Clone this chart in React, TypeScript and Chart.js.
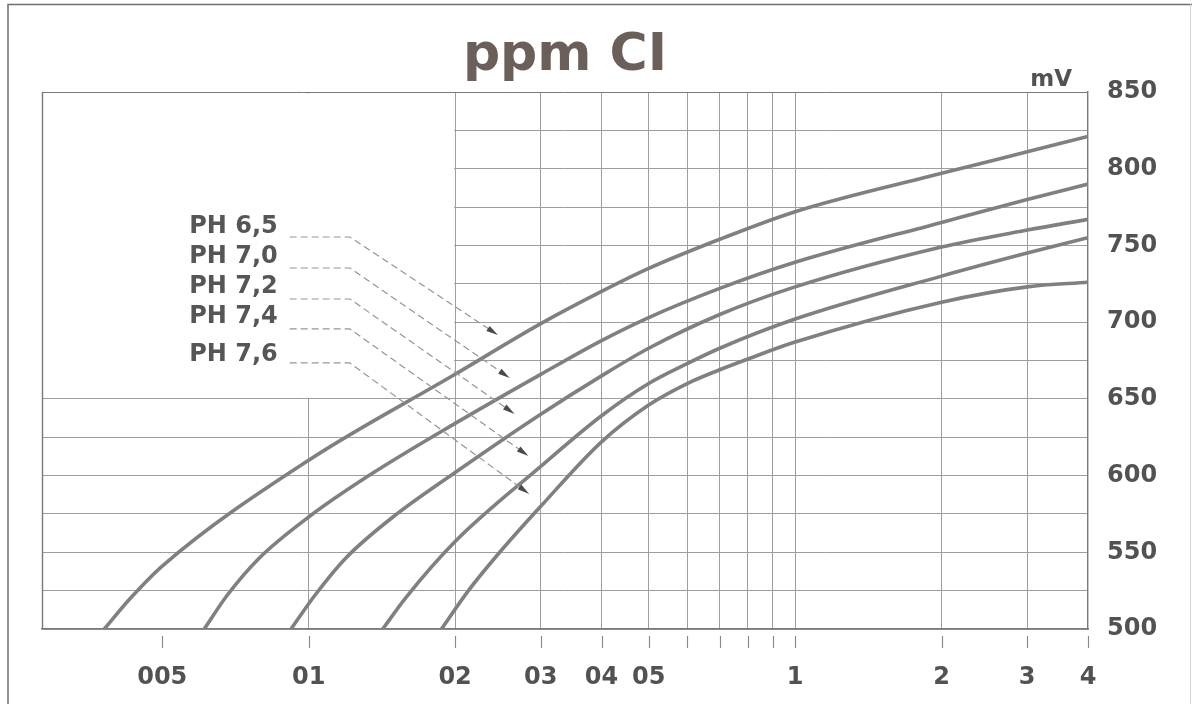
import React, { useEffect, useRef } from 'react';
import { Chart, registerables } from 'chart.js';

Chart.register(...registerables);

const FONT = '"DejaVu Sans", Verdana, sans-serif';

// ---- axes ----
const ppmTicks = [0.05, 0.1, 0.2, 0.3, 0.4, 0.5, 0.6, 0.7, 0.8, 0.9, 1, 2, 3, 4];
const ppmTickLabels = ['005', '01', '02', '03', '04', '05', '', '', '', '', '1', '2', '3', '4'];
const ppmMin = 0.0283;
const ppmMax = 4;
const mvMin = 500;
const mvMax = 850;
const mvStep = 25;
const mvLabelStep = 50;

// ---- series (ppm Cl -> mV) ----
const ph65Ppm = [0.038, 0.043, 0.05, 0.1, 0.2, 0.3, 0.4, 0.5, 0.7, 1, 2, 3, 4];
const ph65Mv = [500, 520, 541, 610, 666, 699, 720, 735, 754, 772, 797, 811, 821];

const ph70Ppm = [0.061, 0.068, 0.079, 0.1, 0.133, 0.2, 0.3, 0.4, 0.5, 0.7, 1, 2, 3, 4];
const ph70Mv = [500, 522, 546, 573, 600, 634, 666, 688, 703, 722, 739, 765, 780, 790];

const ph72Ppm = [0.092, 0.103, 0.119, 0.149, 0.2, 0.3, 0.4, 0.5, 0.7, 1, 2, 3, 4];
const ph72Mv = [500, 522, 546, 573, 602, 640, 665, 683, 705, 723, 749, 760, 767];

const ph74Ppm = [0.142, 0.158, 0.2, 0.3, 0.4, 0.5, 0.6, 0.7, 1, 2, 3, 4];
const ph74Mv = [500, 520, 557, 606, 639, 660, 673, 683, 702, 730, 745, 755];

const ph76Ppm = [0.1875, 0.213, 0.247, 0.3, 0.4, 0.5, 0.6, 0.7, 0.8, 1, 2, 3, 4];
const ph76Mv = [500, 525, 550, 580, 622, 646, 660, 669, 676, 687, 713, 723, 726];

const seriesNames = ['PH 6,5', 'PH 7,0', 'PH 7,2', 'PH 7,4', 'PH 7,6'];

// ---- annotations (in data units) ----
const labelMv = [762, 742.4, 722.9, 703.3, 678.6];
const leaderMv = [755.5, 735.3, 715.1, 695.6, 673.4];
const tipPpm = [0.245, 0.259, 0.265, 0.283, 0.284];
const tipMv = [691.6, 663.6, 640.2, 612.8, 588];
const labelRightPpm = 0.0864;
const leaderStartPpm = 0.0914;
const leaderBendPpm = 0.1215;
const blankMaxPpm = 0.2;
const blankMinMv = 650;
const titleText = 'ppm CI';
const unitText = 'mV';

const GRID = '#9e9e9e';
const BORDER = '#7a7a7a';
const CURVE = '#808080';
const TEXT = '#525252';

const toPoints = (xs: number[], ys: number[]) => xs.map((v, i) => ({ x: v, y: ys[i] }));

const decor = {
  id: 'decor',
  beforeDraw(chart: any) {
    const ctx = chart.ctx;
    ctx.save();
    ctx.fillStyle = '#ffffff';
    ctx.fillRect(0, 0, chart.width, chart.height);
    ctx.strokeStyle = '#6e6e6e';
    ctx.lineWidth = 1.5;
    ctx.beginPath();
    ctx.moveTo(8, chart.height);
    ctx.lineTo(8, 4.5);
    ctx.lineTo(chart.width, 4.5);
    ctx.stroke();
    ctx.strokeStyle = '#d4d4d4';
    ctx.lineWidth = 1;
    ctx.beginPath();
    ctx.moveTo(1190.5, 4);
    ctx.lineTo(1190.5, chart.height);
    ctx.stroke();
    ctx.restore();
  },
  beforeDatasetsDraw(chart: any) {
    const { ctx, chartArea: a } = chart;
    const x = chart.scales.x;
    const y = chart.scales.y;
    const xr = x.getPixelForValue(blankMaxPpm);
    const yb = y.getPixelForValue(blankMinMv);
    ctx.save();
    ctx.fillStyle = '#ffffff';
    ctx.fillRect(a.left + 1, a.top + 1.5, xr - a.left - 2, yb - a.top - 2.5);
    ctx.strokeStyle = BORDER;
    ctx.lineWidth = 1.4;
    ctx.beginPath();
    ctx.moveTo(a.left + 0.5, a.top);
    ctx.lineTo(a.left + 0.5, a.bottom);
    ctx.stroke();
    ctx.restore();
  },
  afterDatasetsDraw(chart: any) {
    const { ctx, chartArea: a } = chart;
    const x = chart.scales.x;
    const y = chart.scales.y;
    ctx.save();
    // tick marks below the axis
    ctx.strokeStyle = '#8a8a8a';
    ctx.lineWidth = 1.2;
    ppmTicks.forEach((v) => {
      const px = Math.round(x.getPixelForValue(v)) + 0.5;
      ctx.beginPath();
      ctx.moveTo(px, a.bottom + 7);
      ctx.lineTo(px, a.bottom + 19);
      ctx.stroke();
    });
    // title
    ctx.fillStyle = '#6b5f5a';
    ctx.font = `bold 52px ${FONT}`;
    ctx.textAlign = 'center';
    ctx.textBaseline = 'alphabetic';
    ctx.fillText(titleText, (a.left + a.right) / 2, 70);
    // unit
    ctx.fillStyle = TEXT;
    ctx.font = `bold 23px ${FONT}`;
    ctx.textAlign = 'right';
    ctx.fillText(unitText, a.right - 16, 86);
    // pH labels with leaders
    ctx.font = `bold 24px ${FONT}`;
    ctx.textBaseline = 'middle';
    ctx.textAlign = 'right';
    seriesNames.forEach((name, i) => {
      ctx.fillStyle = '#565656';
      ctx.fillText(name, x.getPixelForValue(labelRightPpm), y.getPixelForValue(labelMv[i]));
      const ly = y.getPixelForValue(leaderMv[i]);
      const x0 = x.getPixelForValue(leaderStartPpm);
      const x1 = x.getPixelForValue(leaderBendPpm);
      const tx = x.getPixelForValue(tipPpm[i]);
      const ty = y.getPixelForValue(tipMv[i]);
      const dx = tx - x1;
      const dy = ty - ly;
      const len = Math.hypot(dx, dy);
      const ux = dx / len;
      const uy = dy / len;
      ctx.setLineDash([7, 4]);
      ctx.strokeStyle = '#959595';
      ctx.lineWidth = 1.2;
      ctx.beginPath();
      ctx.moveTo(x0, ly);
      ctx.lineTo(x1, ly);
      ctx.lineTo(tx - ux * 10, ty - uy * 10);
      ctx.stroke();
      ctx.setLineDash([]);
      ctx.fillStyle = '#4a4a4a';
      ctx.beginPath();
      ctx.moveTo(tx, ty);
      ctx.lineTo(tx - ux * 12 - uy * 3, ty - uy * 12 + ux * 3);
      ctx.lineTo(tx - ux * 12 + uy * 3, ty - uy * 12 - ux * 3);
      ctx.closePath();
      ctx.fill();
    });
    ctx.restore();
  },
};

export default function App() {
  const ref = useRef<HTMLCanvasElement | null>(null);

  useEffect(() => {
    if (!ref.current) return;
    const seriesPpm = [ph65Ppm, ph70Ppm, ph72Ppm, ph74Ppm, ph76Ppm];
    const seriesMv = [ph65Mv, ph70Mv, ph72Mv, ph74Mv, ph76Mv];
    const chart = new Chart(ref.current, {
      type: 'line',
      data: {
        datasets: seriesNames.map((name, i) => ({
          label: name,
          data: toPoints(seriesPpm[i], seriesMv[i]),
          borderColor: CURVE,
          borderWidth: 3.6,
          pointRadius: 0,
          cubicInterpolationMode: 'monotone' as const,
          fill: false,
        })),
      },
      options: {
        responsive: false,
        animation: false,
        devicePixelRatio: 1,
        layout: { padding: { left: 42, top: 92, right: 0, bottom: 0 } },
        plugins: {
          legend: { display: false },
          title: { display: false },
          tooltip: { enabled: false },
        },
        scales: {
          x: {
            type: 'logarithmic',
            min: ppmMin,
            max: ppmMax,
            afterBuildTicks: (scale: any) => {
              scale.ticks = ppmTicks.map((v) => ({ value: v }));
            },
            afterFit: (scale: any) => {
              scale.height = 75;
            },
            ticks: {
              autoSkip: false,
              maxRotation: 0,
              minRotation: 0,
              padding: 34,
              color: TEXT,
              font: { family: FONT, size: 24, weight: 'bold' },
              callback: (_v: any, i: number) => ppmTickLabels[i],
            },
            grid: {
              drawTicks: false,
              lineWidth: 1,
              color: (c: any) => (c.tick && (c.tick.value === 0.05 || c.tick.value === 4) ? 'rgba(0,0,0,0)' : GRID),
            },
            border: { display: true, color: BORDER, width: 1.4 },
          },
          y: {
            type: 'linear',
            position: 'right',
            min: mvMin,
            max: mvMax,
            afterFit: (scale: any) => {
              scale.width = 104;
            },
            ticks: {
              stepSize: mvStep,
              padding: 19,
              color: TEXT,
              font: { family: FONT, size: 24, weight: 'bold' },
              callback: (v: any) => (Number(v) % mvLabelStep === 0 ? String(v) : ''),
            },
            grid: {
              drawTicks: false,
              lineWidth: 1,
              color: (c: any) => (c.tick && c.tick.value === mvMax ? BORDER : GRID),
            },
            border: { display: true, color: BORDER, width: 1.4 },
          },
        },
      },
      plugins: [decor],
    } as any);
    return () => chart.destroy();
  }, []);

  return (
    <div style={{ position: 'absolute', left: 0, top: 0, width: 1192, height: 704 }}>
      <canvas ref={ref} width={1192} height={704} style={{ display: 'block', width: 1192, height: 704 }} />
    </div>
  );
}
